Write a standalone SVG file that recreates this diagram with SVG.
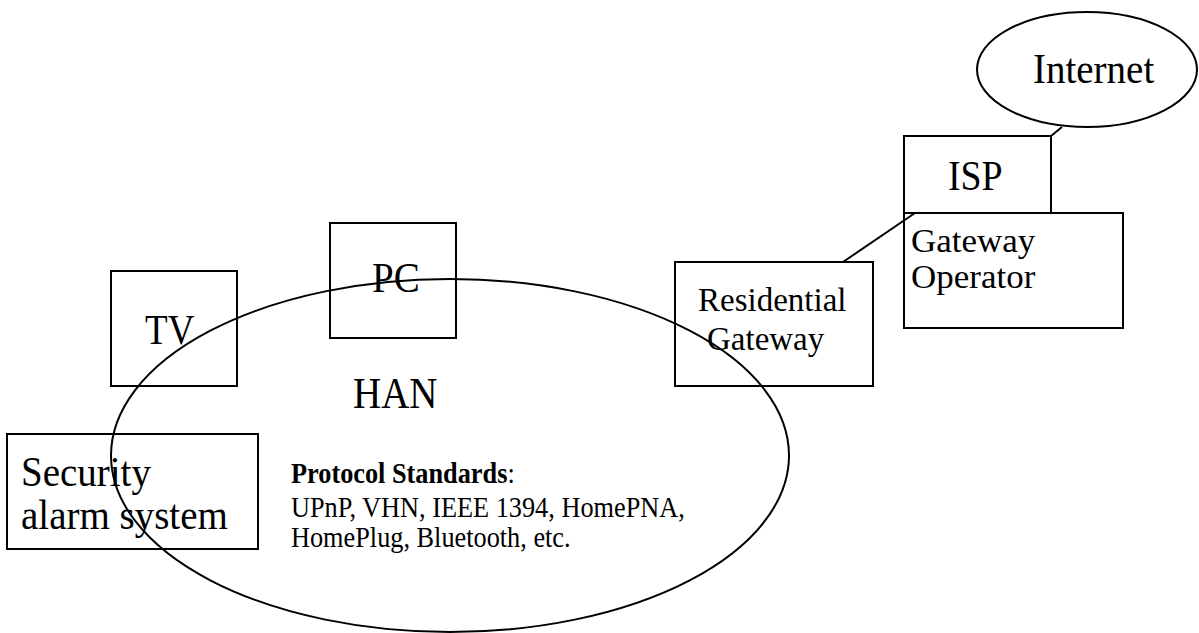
<svg xmlns="http://www.w3.org/2000/svg" width="1199" height="633" viewBox="0 0 1199 633">
<style>
.box{fill:none;stroke:#000;stroke-width:2}
.shape{fill:none;stroke:#000;stroke-width:2}
.t{font-family:"Liberation Serif","Times New Roman",serif;fill:#000}
.big{font-size:39px}
.mid{font-size:33px}
.op{font-size:35px}
.small{font-size:26.3px}
.con{stroke:#000;stroke-width:2;fill:none}
</style>
<rect width="1199" height="633" fill="#fff"/>
<g id="internet">
<ellipse class="shape" cx="1087" cy="69.5" rx="110" ry="57.5"/>
<text class="t big" transform="translate(1033 83) scale(1 1.08)">Internet</text>
</g>
<g id="isp">
<rect class="box" x="904" y="136" width="147" height="77"/>
<text class="t big" transform="translate(948 190) scale(0.97 1.08)">ISP</text>
</g>
<g id="gateway-operator">
<rect class="box" x="904" y="213" width="219" height="115"/>
<text class="t op" transform="translate(911 252) scale(1 0.95)">Gateway</text>
<text class="t op" transform="translate(911 288) scale(1 0.95)">Operator</text>
</g>
<g id="residential-gateway">
<rect class="box" x="675" y="262" width="198" height="124"/>
<text class="t mid" transform="translate(698 311) scale(1 1.02)">Residential</text>
<text class="t mid" transform="translate(707 350) scale(1 1.02)">Gateway</text>
</g>
<g id="pc">
<rect class="box" x="330" y="223" width="126" height="115"/>
<text class="t big" transform="translate(372 292) scale(1 1.08)">PC</text>
</g>
<g id="tv">
<rect class="box" x="111" y="271" width="126" height="115"/>
<text class="t big" transform="translate(145 344) scale(0.95 1.08)">TV</text>
</g>
<g id="security">
<rect class="box" x="7" y="434" width="251" height="115"/>
<text class="t big" transform="translate(21 486) scale(1 1.1)">Security</text>
<text class="t big" transform="translate(21 529) scale(1 1.1)">alarm system</text>
</g>
<g id="han">
<ellipse class="shape" cx="450" cy="455.5" rx="339" ry="176.5"/>
<text class="t big" transform="translate(353 408) scale(1 1.12)">HAN</text>
<text class="t small" transform="translate(291 483) scale(1 1.12)"><tspan font-weight="bold">Protocol Standards</tspan>:</text>
<text class="t small" transform="translate(291 517) scale(1 1.12)">UPnP, VHN, IEEE 1394, HomePNA,</text>
<text class="t small" transform="translate(291 547) scale(1 1.12)">HomePlug, Bluetooth, etc.</text>
</g>
<g id="connectors">
<line class="con" x1="1062" y1="127" x2="1051" y2="136"/>
<line class="con" x1="843" y1="262" x2="915" y2="213"/>
</g>
</svg>
